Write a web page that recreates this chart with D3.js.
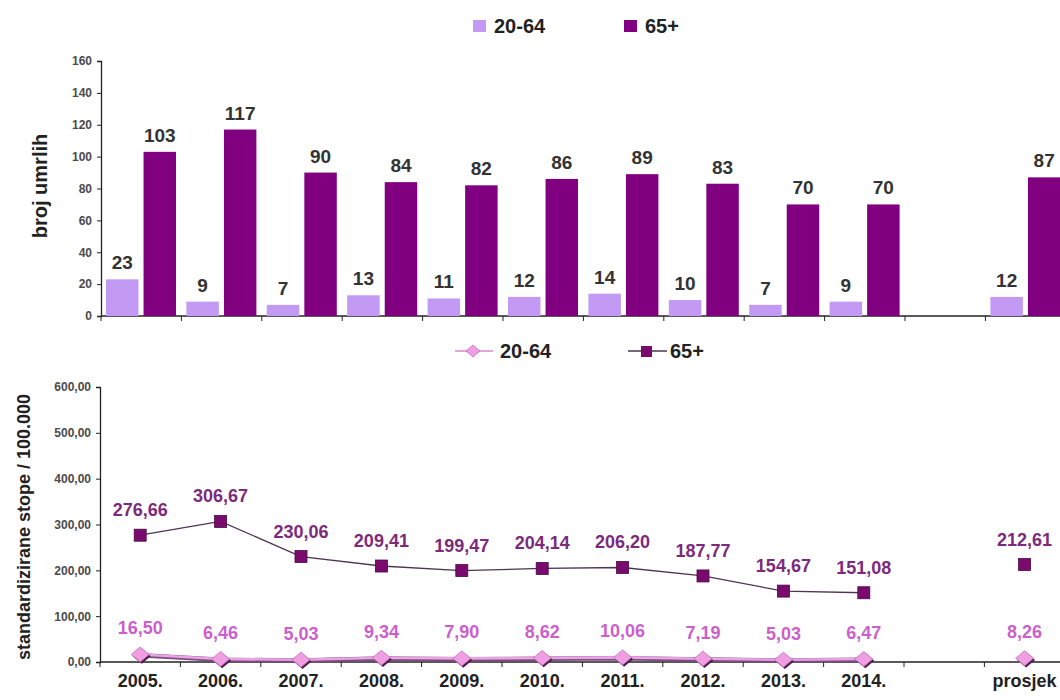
<!DOCTYPE html>
<html><head><meta charset="utf-8">
<script src="https://cdn.jsdelivr.net/npm/d3@7"></script>
<style>
body{margin:0;background:#fff;}
svg{display:block;font-family:"Liberation Sans",Arial,sans-serif;}
</style></head>
<body><svg id="c" width="1060" height="700"></svg>
<script>
const categories = ["2005.","2006.","2007.","2008.","2009.","2010.","2011.","2012.","2013.","2014.","","prosjek"];
const series = ["20-64","65+"];
const deaths2064 = [23,9,7,13,11,12,14,10,7,9,null,12];
const deaths65 = [103,117,90,84,82,86,89,83,70,70,null,87];
const rates2064 = [16.50,6.46,5.03,9.34,7.90,8.62,10.06,7.19,5.03,6.47,null,8.26];
const rates65 = [276.66,306.67,230.06,209.41,199.47,204.14,206.20,187.77,154.67,151.08,null,212.61];
const countTicks = [0,20,40,60,80,100,120,140,160];
const rateTicks = [0,100,200,300,400,500,600];

const cLight = "#c29af4", cDark = "#800080";
const svg = d3.select("#c");
const comma = v => d3.format(".2f")(v).replace(".", ",");

// ---------- TOP BAR CHART ----------
const x = d3.scaleBand().domain(categories).range([101, 101 + 12*80.4]);
const xs = d3.scaleBand().domain(series).range([5, 75]).paddingInner(0.135);
const y1 = d3.scaleLinear().domain([0,160]).range([316,61]);

const gTop = svg.append("g");
const yAx1 = gTop.append("g").attr("transform","translate(101,0)")
  .call(d3.axisLeft(y1).tickValues(countTicks).tickSize(4).tickPadding(5));
const xAx1 = gTop.append("g").attr("transform","translate(0,316)")
  .call(d3.axisBottom(x).tickValues(categories).tickSize(5).tickFormat(""));
xAx1.selectAll(".tick").attr("transform", d => `translate(${x(d)},0)`);
[yAx1, xAx1].forEach(a => { a.select(".domain").attr("stroke","#222").attr("stroke-width",1.3); a.selectAll("line").attr("stroke","#222"); });
xAx1.select(".domain").attr("d","M101,0H1060");
yAx1.selectAll("text").attr("font-size",12).attr("font-weight","bold").attr("fill","#4a4a4a");

const bars = [{s:"20-64", vals:deaths2064, col:cLight},{s:"65+", vals:deaths65, col:cDark}];
bars.forEach(b => {
  const data = categories.map((c,i)=>({c, v:b.vals[i]})).filter(d=>d.v!=null);
  gTop.selectAll(null).data(data).enter().append("rect")
    .attr("x", d => x(d.c) + xs(b.s)).attr("width", xs.bandwidth())
    .attr("y", d => y1(d.v)).attr("height", d => y1(0) - y1(d.v))
    .attr("fill", b.col);
  gTop.selectAll(null).data(data).enter().append("text")
    .attr("x", d => x(d.c) + xs(b.s) + xs.bandwidth()/2)
    .attr("y", d => y1(d.v) - 10)
    .attr("text-anchor","middle").attr("font-size",19).attr("font-weight","bold").attr("fill","#333")
    .text(d => d.v);
});
gTop.append("text").attr("transform","translate(47,186) rotate(-90)").attr("text-anchor","middle")
  .attr("font-size",20).attr("font-weight","bold").attr("fill","#222").text("broj umrlih");

const lg1 = gTop.append("g");
[{s:"20-64",col:cLight,x:473},{s:"65+",col:cDark,x:624}].forEach(l=>{
  lg1.append("rect").attr("x",l.x).attr("y",20).attr("width",13).attr("height",12).attr("fill",l.col);
  lg1.append("text").attr("x",l.x+21).attr("y",33).attr("font-size",20).attr("font-weight","bold").attr("fill","#222").text(l.s);
});

// ---------- BOTTOM LINE CHART ----------
const x2 = d3.scaleBand().domain(categories).range([100, 100 + 12*80.4]);
const y2 = d3.scaleLinear().domain([0,600]).range([662,387]);
const bot = svg.append("g");
const yAx2 = bot.append("g").attr("transform","translate(100,0)")
  .call(d3.axisLeft(y2).tickValues(rateTicks).tickSize(4).tickPadding(5).tickFormat(comma));
const xAx2 = bot.append("g").attr("transform","translate(0,662)")
  .call(d3.axisBottom(x2).tickValues(categories).tickSize(5).tickFormat(""));
xAx2.selectAll(".tick").attr("transform", d => `translate(${x2(d)},0)`);
[yAx2, xAx2].forEach(a => { a.select(".domain").attr("stroke","#222").attr("stroke-width",1.3); a.selectAll("line").attr("stroke","#222"); });
xAx2.select(".domain").attr("d","M100,0H1060");
yAx2.selectAll("text").attr("font-size",12).attr("font-weight","bold").attr("fill","#4a4a4a");
bot.selectAll(null).data(categories).enter().append("text")
  .attr("x", d => x2(d) + x2.bandwidth()/2).attr("y", 687)
  .attr("text-anchor","middle").attr("font-size",18).attr("font-weight","bold").attr("fill","#222")
  .text(d => d);

const cx = c => x2(c) + x2.bandwidth()/2;
const pts65 = categories.map((c,i)=>({c,v:rates65[i],i}));
const pts20 = categories.map((c,i)=>({c,v:rates2064[i],i}));
const line = d3.line().defined(d => d.v!=null && d.i<10).x(d=>cx(d.c)).y(d=>y2(d.v));

bot.append("path").datum(pts20).attr("d", line).attr("fill","none").attr("stroke","#7e4a80").attr("stroke-width",4.5).attr("transform","translate(0,0.8)");
bot.append("path").datum(pts20).attr("d", line).attr("fill","none").attr("stroke","#e8a4e4").attr("stroke-width",2.6);
bot.append("path").datum(pts65).attr("d", line).attr("fill","none").attr("stroke","#4d3550").attr("stroke-width",1.3);

const d20 = pts20.filter(d=>d.v!=null), d65 = pts65.filter(d=>d.v!=null);
const diamond = "M0,-7.5L9,0L0,7.5L-9,0Z";
bot.selectAll(null).data(d20).enter().append("path")
  .attr("d", diamond).attr("transform", d=>`translate(${cx(d.c)+1.5},${y2(d.v)+1.8})`).attr("fill","#4a1f4a");
bot.selectAll(null).data(d20).enter().append("path")
  .attr("d", diamond).attr("transform", d=>`translate(${cx(d.c)},${y2(d.v)})`)
  .attr("fill","#f09ee2").attr("stroke","#c46cc0").attr("stroke-width",0.8);
bot.selectAll(null).data(d65).enter().append("rect")
  .attr("x", d=>cx(d.c)-6).attr("y", d=>y2(d.v)-6).attr("width",12).attr("height",12)
  .attr("fill","#7a0a6e").attr("stroke","#4a0a44").attr("stroke-width",0.8);

bot.selectAll(null).data(d65).enter().append("text")
  .attr("x", d=>cx(d.c)).attr("y", d=>y2(d.v)-19)
  .attr("text-anchor","middle").attr("font-size",18).attr("font-weight","bold").attr("fill","#7d2a7d")
  .text(d=>comma(d.v));
bot.selectAll(null).data(d20).enter().append("text")
  .attr("x", d=>cx(d.c)).attr("y", d=>y2(d.v)-20)
  .attr("text-anchor","middle").attr("font-size",18).attr("font-weight","bold").attr("fill","#cc5fcc")
  .text(d=>comma(d.v));

bot.append("text").attr("transform","translate(30,527) rotate(-90)").attr("text-anchor","middle")
  .attr("font-size",18).attr("font-weight","bold").attr("fill","#222").text("standardizirane stope / 100.000");

const lg2 = bot.append("g");
lg2.append("line").attr("x1",455).attr("x2",493).attr("y1",351).attr("y2",351).attr("stroke","#d48ad0").attr("stroke-width",1.5);
lg2.append("path").attr("d","M0,-6L7,0L0,6L-7,0Z").attr("transform","translate(473,351)").attr("fill","#f09ee2").attr("stroke","#c46cc0").attr("stroke-width",0.8);
lg2.append("text").attr("x",500).attr("y",358).attr("font-size",20).attr("font-weight","bold").attr("fill","#222").text("20-64");
lg2.append("line").attr("x1",628).attr("x2",667).attr("y1",351).attr("y2",351).attr("stroke","#4d3550").attr("stroke-width",1.3);
lg2.append("rect").attr("x",641).attr("y",346).attr("width",11).attr("height",11).attr("fill","#7a0a6e");
lg2.append("text").attr("x",670).attr("y",358).attr("font-size",20).attr("font-weight","bold").attr("fill","#222").text("65+");
</script></body></html>
